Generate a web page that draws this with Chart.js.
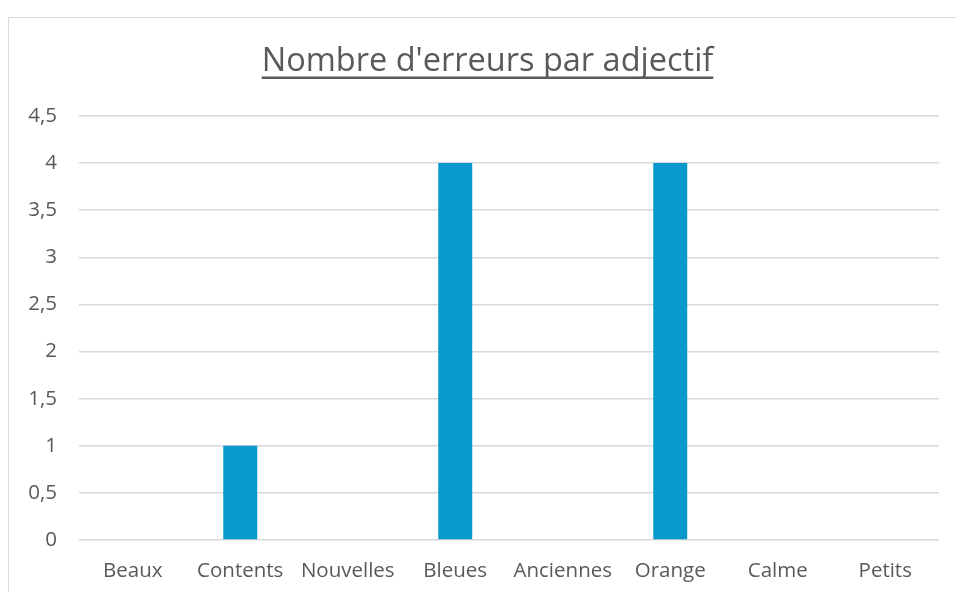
<!DOCTYPE html>
<html>
<head>
<meta charset="utf-8">
<script src="https://cdn.jsdelivr.net/npm/chart.js@4/dist/chart.umd.min.js"></script>
<style>
  html, body { margin: 0; padding: 0; background: #fff; overflow: hidden; }
  #frame { position: absolute; left: 8px; top: 17px; width: 1000px; height: 1000px; border: 1px solid #d9d9d9; box-sizing: border-box; }
  #wrap { position: absolute; left: 0; top: 0; width: 956px; height: 592px; }
</style>
</head>
<body>
<div id="frame"></div>
<div id="wrap"><canvas id="c" width="956" height="592"></canvas></div>
<script>
const categories = ["Beaux", "Contents", "Nouvelles", "Bleues", "Anciennes", "Orange", "Calme", "Petits"];
const errorCounts = [0, 1, 0, 4, 0, 4, 0, 0];
const chartTitle = "Nombre d'erreurs par adjectif";

const underlineTitle = {
  id: 'underlineTitle',
  afterLayout(chart) {
    if (chart.titleBlock) chart.titleBlock.left = 36;
  },
  afterDraw(chart) {
    const t = chart.titleBlock;
    if (!t) return;
    const ctx = chart.ctx;
    const font = Chart.helpers.toFont(t.options.font);
    ctx.save();
    ctx.font = font.string;
    const w = ctx.measureText(chartTitle).width;
    const cx = (t.left + t.right) / 2;
    const y = t.top + t.options.padding.top + font.lineHeight / 2 + font.size * 0.5;
    ctx.strokeStyle = '#595959';
    ctx.lineWidth = 2.5;
    ctx.beginPath();
    ctx.moveTo(cx - w / 2, y);
    ctx.lineTo(cx + w / 2, y);
    ctx.stroke();
    ctx.restore();
  }
};

new Chart(document.getElementById('c'), {
  type: 'bar',
  data: {
    labels: categories,
    datasets: [{
      data: errorCounts,
      backgroundColor: '#0799CC',
      categoryPercentage: 1.0,
      barPercentage: 0.316
    }]
  },
  options: {
    responsive: false,
    animation: false,
    layout: { padding: { left: 0, right: 17, top: 0, bottom: 0 } },
    plugins: {
      legend: { display: false },
      tooltip: { enabled: false },
      title: {
        display: true,
        text: chartTitle,
        color: '#595959',
        font: { family: 'Open Sans', size: 32.5, weight: 'normal' },
        padding: { top: 42, bottom: 35 }
      }
    },
    scales: {
      x: {
        grid: { display: false, drawTicks: false },
        border: { display: false },
        ticks: { color: '#595959', font: { family: 'Open Sans', size: 20.5 }, padding: 19, maxRotation: 0, autoSkip: false },
        afterFit(scale) { scale.height = 52; }
      },
      y: {
        min: 0,
        max: 4.5,
        grid: { color: '#d9d9d9', lineWidth: 1.5, drawTicks: false },
        border: { display: false },
        ticks: {
          stepSize: 0.5,
          color: '#595959',
          font: { family: 'Open Sans', size: 20.5 },
          padding: 22,
          callback: v => String(v).replace('.', ',')
        },
        afterFit(scale) { scale.width = 79; }
      }
    }
  },
  plugins: [underlineTitle]
});
</script>
</body>
</html>
